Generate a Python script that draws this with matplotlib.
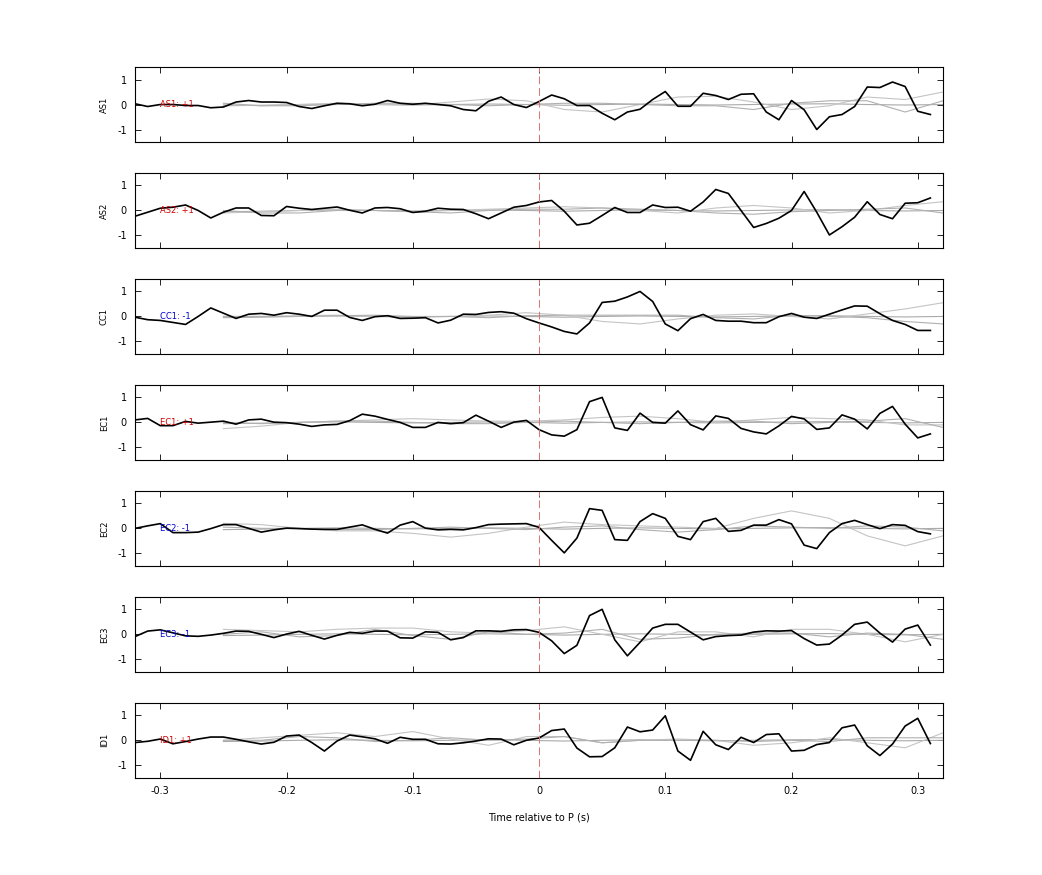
import numpy as np
import matplotlib
matplotlib.use("Agg")
import matplotlib.pyplot as plt

plt.rcParams["axes.unicode_minus"] = False

# time axis: 64 samples, 0.01 s apart
time = np.round(np.arange(-0.32, 0.315, 0.01), 2)
# gray reference traces, coarser sampling
time_gray = np.round(np.arange(-0.25, 0.33, 0.03), 2)

stations = ["AS1", "AS2", "CC1", "EC1", "EC2", "EC3", "ID1"]
polarity = ["+1", "+1", "-1", "+1", "-1", "-1", "+1"]
label_colors = ["#d00000", "#d00000", "#0000d0", "#d00000", "#0000d0", "#0000d0", "#d00000"]

as1 = [0.03, -0.08, 0, 0, -0.04, -0.04, -0.13, -0.1, 0.1, 0.16, 0.1, 0.1, 0.08, -0.08, -0.16, -0.05,
       0.05, 0.03, -0.05, 0.01, 0.16, 0.05, 0.01, 0.05, 0, -0.05, -0.2, -0.25, 0.13, 0.3, 0, -0.12,
       0.12, 0.38, 0.23, -0.04, -0.04, -0.35, -0.61, -0.3, -0.19, 0.2, 0.52, -0.07, -0.07, 0.45, 0.36, 0.2,
       0.41, 0.43, -0.3, -0.61, 0.16, -0.21, -1.0, -0.49, -0.4, -0.08, 0.7, 0.68, 0.9, 0.72, -0.27, -0.4]
as2 = [-0.23, -0.07, 0.09, 0.13, 0.22, 0, -0.3, -0.07, 0.1, 0.1, -0.2, -0.21, 0.16, 0.09, 0.04, 0.09,
       0.14, 0.01, -0.1, 0.1, 0.12, 0.07, -0.08, -0.03, 0.09, 0.05, 0.04, -0.13, -0.33, -0.1, 0.13, 0.2,
       0.34, 0.4, -0.03, -0.58, -0.51, -0.2, 0.12, -0.08, -0.08, 0.22, 0.12, 0.13, -0.03, 0.34, 0.84, 0.68,
       0, -0.68, -0.52, -0.31, 0, 0.76, -0.07, -0.98, -0.65, -0.27, 0.35, -0.16, -0.33, 0.29, 0.31, 0.5]
cc1 = [-0.03, -0.13, -0.16, -0.24, -0.32, 0, 0.34, 0.13, -0.08, 0.09, 0.12, 0.05, 0.15, 0.09, 0, 0.25,
       0.25, -0.04, -0.16, -0.01, 0.03, -0.08, -0.07, -0.05, -0.26, -0.15, 0.09, 0.08, 0.16, 0.19, 0.13, -0.09,
       -0.26, -0.42, -0.6, -0.7, -0.26, 0.56, 0.61, 0.78, 1.0, 0.6, -0.3, -0.57, -0.09, 0.08, -0.16, -0.19,
       -0.19, -0.25, -0.25, -0.01, 0.12, -0.03, -0.08, 0.09, 0.26, 0.42, 0.41, 0.11, -0.16, -0.32, -0.56, -0.56]
ec1 = [0.1, 0.16, -0.13, -0.13, 0.04, -0.03, 0.01, 0.05, -0.07, 0.1, 0.13, 0.01, -0.01, -0.07, -0.16, -0.1,
       -0.08, 0.07, 0.33, 0.25, 0.12, 0, -0.2, -0.2, 0, -0.05, -0.01, 0.29, 0.05, -0.2, 0.01, 0.08,
       -0.29, -0.5, -0.55, -0.29, 0.83, 1.0, -0.22, -0.32, 0.37, 0, -0.03, 0.46, -0.09, -0.3, 0.26, 0.16,
       -0.24, -0.38, -0.46, -0.14, 0.24, 0.14, -0.28, -0.22, 0.3, 0.13, -0.26, 0.36, 0.64, -0.07, -0.62, -0.46]
ec2 = [0, 0.1, 0.19, -0.17, -0.17, -0.15, -0.01, 0.15, 0.15, 0, -0.15, -0.06, 0.01, -0.01, -0.03, -0.04,
       -0.04, 0.05, 0.14, -0.04, -0.19, 0.13, 0.27, 0.01, -0.06, -0.04, -0.06, 0.03, 0.15, 0.17, 0.18, 0.19,
       0.04, -0.48, -0.98, -0.39, 0.79, 0.72, -0.45, -0.48, 0.27, 0.59, 0.4, -0.32, -0.45, 0.27, 0.4, -0.12,
       -0.08, 0.13, 0.13, 0.35, 0.18, -0.67, -0.81, -0.17, 0.19, 0.32, 0.15, -0.01, 0.15, 0.12, -0.13, -0.22]
ec3 = [-0.09, 0.13, 0.18, 0.06, -0.06, -0.08, -0.03, 0.04, 0.13, 0.12, 0, -0.13, 0.01, 0.12, -0.04, -0.19,
       -0.04, 0.08, 0.04, 0.13, 0.13, -0.14, -0.15, 0.1, 0.08, -0.22, -0.13, 0.14, 0.14, 0.12, 0.18, 0.19,
       0.08, -0.26, -0.77, -0.44, 0.75, 1.0, -0.22, -0.86, -0.32, 0.25, 0.4, 0.4, 0.09, -0.22, -0.09, -0.05,
       -0.03, 0.09, 0.14, 0.13, 0.15, -0.17, -0.43, -0.39, -0.03, 0.4, 0.49, 0.05, -0.31, 0.21, 0.37, -0.43]
id1 = [-0.09, -0.04, 0.05, -0.14, -0.05, 0.05, 0.13, 0.13, 0.04, -0.06, -0.15, -0.08, 0.17, 0.21, -0.09, -0.43,
       -0.03, 0.21, 0.14, 0.06, -0.12, 0.12, 0.04, 0.04, -0.14, -0.15, -0.1, -0.03, 0.06, 0.05, -0.18, 0,
       0.09, 0.39, 0.45, -0.31, -0.66, -0.65, -0.3, 0.53, 0.34, 0.41, 0.98, -0.43, -0.8, 0.36, -0.18, -0.37,
       0.12, -0.09, 0.23, 0.26, -0.43, -0.4, -0.17, -0.09, 0.5, 0.61, -0.22, -0.61, -0.15, 0.57, 0.88, -0.13]
traces = [as1, as2, cc1, ec1, ec2, ec3, id1]

# two gray comparison traces per station (at time_gray)
gray_a = [
    [0, -0.05, 0, 0.05, 0, -0.02, 0.1, 0.22, 0.15, -0.2, -0.3, 0, 0.3, 0.33, 0.1, -0.2, -0.05, 0.3, 0.2, 0.5],
    [-0.1, -0.05, 0, 0.05, 0, -0.05, 0, 0.05, 0.1, 0.15, 0.1, 0, -0.1, 0.1, 0.2, 0.1, -0.1, 0, 0.2, 0.35],
    [0, 0, 0.03, 0.05, 0, -0.03, 0, 0.05, 0.15, 0.05, -0.2, -0.3, -0.1, 0.05, 0.1, 0, -0.1, 0.1, 0.3, 0.55],
    [-0.25, -0.15, 0, 0.05, 0.1, 0.15, 0.1, 0.05, 0.05, 0.1, 0.2, 0.25, 0.15, 0, 0.1, 0.2, 0.15, 0.1, -0.1, -0.1],
    [0.2, 0.15, 0, -0.1, -0.1, -0.2, -0.35, -0.2, 0.05, 0.25, 0.15, 0.1, 0.05, 0, 0.4, 0.7, 0.4, -0.3, -0.7, -0.3],
    [0.2, 0.15, 0.1, 0.2, 0.25, 0.25, 0.1, 0.05, 0.15, 0.3, 0, -0.3, 0.1, 0.1, -0.1, 0.2, 0.2, 0, -0.3, 0],
    [0, 0.1, 0.2, 0.3, 0.15, 0.35, 0.05, -0.2, 0.15, 0.15, -0.1, 0, 0.05, 0, -0.2, -0.1, 0.1, -0.1, -0.3, 0.3],
]
gray_b = [
    [0.05, -0.05, -0.05, 0, 0.05, 0.05, 0, -0.05, 0, 0.05, 0.05, 0, -0.05, -0.05, -0.2, 0.05, 0.15, 0.15, -0.3, 0.15],
    [0, -0.1, -0.1, 0, 0, -0.05, -0.1, 0, 0.05, 0.05, 0.1, 0.05, 0, -0.1, -0.15, -0.05, 0, 0.05, 0.1, -0.1],
    [0, 0, 0, 0.03, 0.05, 0, 0, -0.05, 0.03, 0.05, 0.05, 0.05, 0.05, -0.05, -0.1, 0.05, 0, -0.05, -0.2, -0.3],
    [0, -0.05, 0, 0.05, 0.05, 0, -0.05, -0.05, 0, 0.05, 0, -0.05, 0, 0.05, 0.05, -0.05, 0, 0.05, 0.15, -0.2],
    [0.05, 0, 0, -0.05, -0.05, 0, 0.05, 0, -0.05, 0.05, 0.1, -0.05, -0.15, -0.05, 0.1, 0.05, 0, 0.1, 0.05, -0.1],
    [0, 0.1, -0.1, -0.05, 0.2, -0.05, -0.2, 0.1, 0, 0.05, 0.2, -0.2, -0.15, 0, 0.05, 0.05, -0.1, 0.05, 0, -0.2],
    [0, 0, 0.15, 0.1, -0.05, 0, 0.1, 0, 0.05, 0.15, -0.1, 0, 0, 0, -0.05, 0, -0.05, 0.1, 0.1, 0.1],
]
gray_flat = [-0.05, -0.03, 0, 0.02, 0, -0.02, 0, 0.02, 0, -0.03, 0, 0.02, 0, -0.02, 0, 0.02, 0.03, 0, -0.02, 0]

fig = plt.figure(figsize=(10.42, 8.75), dpi=100)
left, right = 0.1296, 0.905
top, panel_h, step = 0.9234, 0.0857, 0.1211

for i, st in enumerate(stations):
    ax = fig.add_axes([left, top - panel_h - i * step, right - left, panel_h])
    ax.plot(time_gray, gray_flat, color="#aaaaaa", lw=0.8)
    ax.plot(time_gray, gray_a[i], color="#c4c4c4", lw=0.8)
    ax.plot(time_gray, gray_b[i], color="#b0b0b0", lw=0.8)
    ax.plot(time, traces[i], color="black", lw=1.2)
    ax.axvline(0, color="#e07070", lw=0.7, ls=(0, (8, 4)))
    ax.text(-0.30, 0, f"{st}: {polarity[i]}", color=label_colors[i], fontsize=6, va="center")
    ax.set_xlim(-0.32, 0.32)
    ax.set_ylim(-1.5, 1.5)
    ax.set_yticks([-1, 0, 1])
    ax.set_xticks([-0.3, -0.2, -0.1, 0, 0.1, 0.2, 0.3])
    ax.tick_params(direction="in", top=True, right=True, labelsize=7, length=4, width=0.6, pad=6)
    ax.set_ylabel(st, fontsize=6, labelpad=6)
    for s in ax.spines.values():
        s.set_linewidth(0.8)
    if i < len(stations) - 1:
        ax.set_xticklabels([])
    else:
        ax.set_xticklabels(["-0.3", "-0.2", "-0.1", "0", "0.1", "0.2", "0.3"])
        ax.set_xlabel("Time relative to P (s)", fontsize=7, labelpad=12)

fig.savefig("out.png", dpi=100)
